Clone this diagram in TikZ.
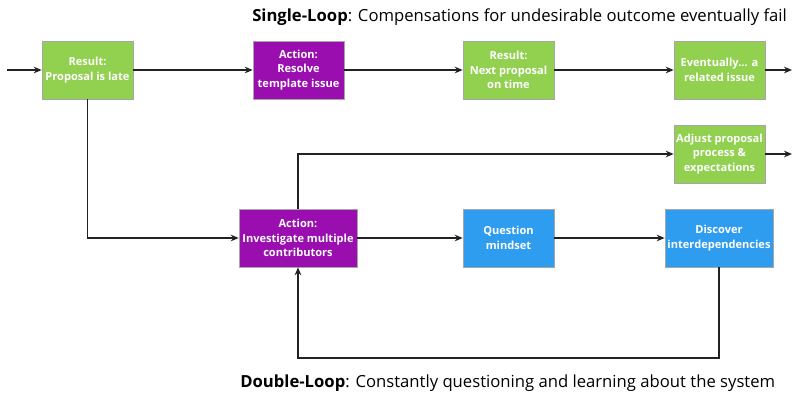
\documentclass[tikz,border=0pt]{standalone}
\usepackage{fontspec}
\setmainfont{Open Sans}
\usetikzlibrary{arrows.meta}
\definecolor{resgreen}{HTML}{92D050}
\definecolor{actpurple}{HTML}{9A0EB0}
\definecolor{askblue}{HTML}{2E9CEF}
\definecolor{linegray}{HTML}{222222}
\newlength{\px}
\setlength{\px}{0.75pt}
\tikzset{
  box/.style={draw=black!35, line width=0.5pt, minimum height=58\px, text=white,
    font=\bfseries\fontsize{8.3}{11}\selectfont, align=center, inner sep=1pt},
  result/.style={box, fill=resgreen, minimum width=91\px},
  action/.style={box, fill=actpurple},
  ask/.style={box, fill=askblue},
  heading/.style={anchor=west, inner sep=0pt, font=\fontsize{12.5}{14}\selectfont},
  flow/.style={draw=linegray, line width=1.1pt, -{Stealth[length=6pt,width=5pt]}},
}
\begin{document}
\begin{tikzpicture}[x=0.75pt, y=-0.75pt]
\useasboundingbox (0,0) rectangle (794,397);
% headings
\node[heading] (single) at (252,17)
  {\textbf{Single-Loop}: Compensations for undesirable outcome eventually fail};
\node[heading] (double) at (240,383)
  {\textbf{Double-Loop}: Constantly questioning and learning about the system};
% single-loop row
\node[result] (late) at (87.5,70) {Result:\\Proposal is late};
\node[action, minimum width=91\px] (resolve) at (298.5,70) {Action:\\Resolve\\template issue};
\node[result] (ontime) at (508.5,70) {Result:\\Next proposal\\on time};
\node[result] (related) at (719.5,70) {Eventually... a\\related issue};
% double-loop boxes
\node[result] (adjust) at (719.5,154) {Adjust proposal\\process \&\\expectations};
\node[action, minimum width=118\px] (investigate) at (298,238) {Action:\\Investigate multiple\\contributors};
\node[ask, minimum width=91\px] (question) at (508.5,238) {Question\\mindset};
\node[ask, minimum width=108\px] (discover) at (719,238) {Discover\\interdependencies};
% free ends
\coordinate (in) at (7,70);
\coordinate (out1) at (792,70);
\coordinate (out2) at (792,154);
\coordinate (loopR) at (719,358);
\coordinate (loopL) at (298,358);
% single-loop connectors
\draw[flow] (in) -- (late);
\draw[flow] (late) -- (resolve);
\draw[flow] (resolve) -- (ontime);
\draw[flow] (ontime) -- (related);
\draw[flow] (related) -- (out1);
% double-loop connectors
\draw[flow] (late.south) |- (investigate.west);
\draw[flow] (investigate.north) |- (adjust.west);
\draw[flow] (adjust) -- (out2);
\draw[flow] (investigate) -- (question);
\draw[flow] (question) -- (discover);
\draw[flow] (discover.south) -- (loopR) -- (loopL) -- (investigate.south);
\end{tikzpicture}
\end{document}
